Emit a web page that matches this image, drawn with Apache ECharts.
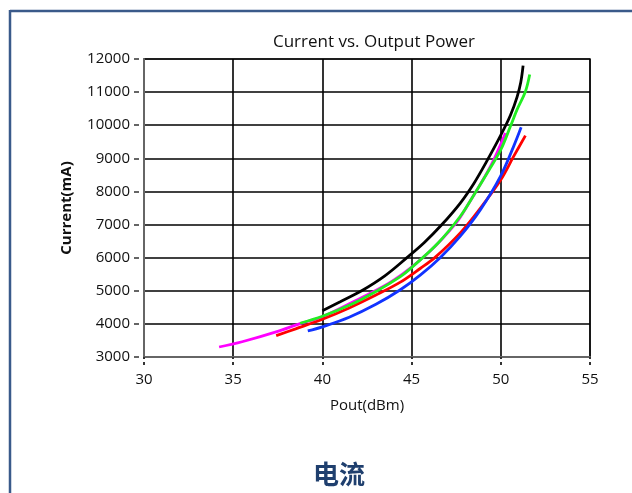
<!DOCTYPE html>
<html>
<head>
<meta charset="utf-8">
<script src="https://cdn.jsdelivr.net/npm/echarts@6/dist/echarts.min.js"></script>
<style>
html,body{margin:0;padding:0;background:#fff;}
#chart{width:632px;height:493px;}
</style>
</head>
<body>
<div id="chart"></div>
<script>
// Data: [Pout (dBm), Current (mA)]
var seriesNames = ['Black', 'Green', 'Magenta', 'Red', 'Blue'];
var blackCurve = [[40,4400],[41,4670],[42.2,5000],[43.5,5450],[44.74,6000],[45.7,6450],[46.7,7000],[47.73,7650],[48.5,8250],[49.2,8900],[50,9700],[50.54,10300],[50.91,10850],[51.12,11300],[51.25,11800]];
var greenCurve = [[38.75,4020],[40,4230],[41.5,4560],[43,4980],[44.37,5430],[45,5700],[46.5,6450],[47.73,7250],[48.5,7900],[49.4,8700],[50,9260],[50.54,9966],[50.91,10470],[51.38,11020],[51.62,11530]];
var magentaCurve = [[34.21,3302],[35.5,3460],[37.45,3765],[38.75,4010],[40,4215],[42,4740],[44,5320],[46,6180],[47.5,7050],[48.1,7546],[49.42,8757],[50.26,9766]];
var redCurve = [[37.41,3645],[38.5,3850],[40,4140],[41.5,4480],[43,4870],[44.37,5260],[45.5,5680],[46.3,6000],[47.73,6750],[48.86,7500],[50,8354],[50.72,9058],[51.38,9685]];
var blueCurve = [[39.18,3786],[40,3910],[41.5,4200],[43,4590],[44.37,5030],[45.5,5480],[46.6,6000],[47.73,6650],[48.86,7450],[49.98,8454],[50.72,9361],[51.14,9936]];
var seriesColors = ['#000000', '#22ee22', '#ff00ff', '#ff0000', '#1133ff'];
var xTicks = [30, 35, 40, 45, 50, 55];
var yTicks = [3000, 4000, 5000, 6000, 7000, 8000, 9000, 10000, 11000, 12000];

var curves = [blackCurve, greenCurve, magentaCurve, redCurve, blueCurve];
var order = [2, 3, 4, 1, 0];
var chart = echarts.init(document.getElementById('chart'), null, {renderer: 'canvas'});
var fontFam = '"Open Sans", "Noto Sans", sans-serif';
var option = {
  backgroundColor: '#ffffff',
  animation: false,
  title: {
    text: 'Current vs. Output Power',
    left: 369, top: 29, textAlign: 'center',
    textStyle: {fontFamily: fontFam, fontSize: 17, fontWeight: 'normal', color: '#111'}
  },
  grid: {left: 144, right: 42, top: 59, bottom: 136, show: true, borderColor: '#777', borderWidth: 2},
  xAxis: {
    type: 'value', min: xTicks[0], max: xTicks[xTicks.length-1], interval: 5,
    name: 'Pout(dBm)', nameLocation: 'middle', nameGap: 41,
    nameTextStyle: {fontFamily: fontFam, fontSize: 15, color: '#111'},
    axisLine: {show: true, lineStyle: {color: '#666', width: 2}},
    axisTick: {show: true, inside: false, length: 8, lineStyle: {color: '#333', width: 2, type: [5, 3], dashOffset: 3}},
    axisLabel: {fontFamily: fontFam, fontSize: 15, color: '#111', margin: 15},
    splitLine: {show: true, lineStyle: {color: '#000', width: 1.6}}
  },
  yAxis: {
    type: 'value', min: yTicks[0], max: yTicks[yTicks.length-1], interval: 1000,
    name: 'Current(mA)', nameLocation: 'middle', nameGap: 70,
    nameTextStyle: {fontFamily: fontFam, fontSize: 15, fontWeight: 'bold', color: '#111'},
    axisLine: {show: true, lineStyle: {color: '#666', width: 2}},
    axisTick: {show: true, inside: false, length: 10, lineStyle: {color: '#333', width: 1.5, type: [5, 5], dashOffset: 5}},
    axisLabel: {fontFamily: fontFam, fontSize: 15, color: '#111', margin: 14,
      formatter: function(v){ return String(v); }},
    splitLine: {show: true, lineStyle: {color: '#000', width: 1.6}}
  },
  series: order.map(function(i){
    return {
      name: seriesNames[i], type: 'line', data: curves[i], smooth: 0.35,
      showSymbol: false, symbol: 'none',
      lineStyle: {color: seriesColors[i], width: 2.8},
      z: 3
    };
  }),
  graphic: [
    {type: 'line', shape: {x1: 10, y1: 11, x2: 632, y2: 11}, style: {stroke: '#3a5a8a', lineWidth: 2.5}},
    {type: 'line', shape: {x1: 10, y1: 10, x2: 10, y2: 493}, style: {stroke: '#3a5a8a', lineWidth: 2.5}},
    {type: 'text', left: 313, top: 461, style: {text: '电流', font: 'bold 26px "Noto Sans CJK SC", sans-serif', fill: '#1f3f6e'}}
  ]
};
chart.setOption(option);
</script>
</body>
</html>
